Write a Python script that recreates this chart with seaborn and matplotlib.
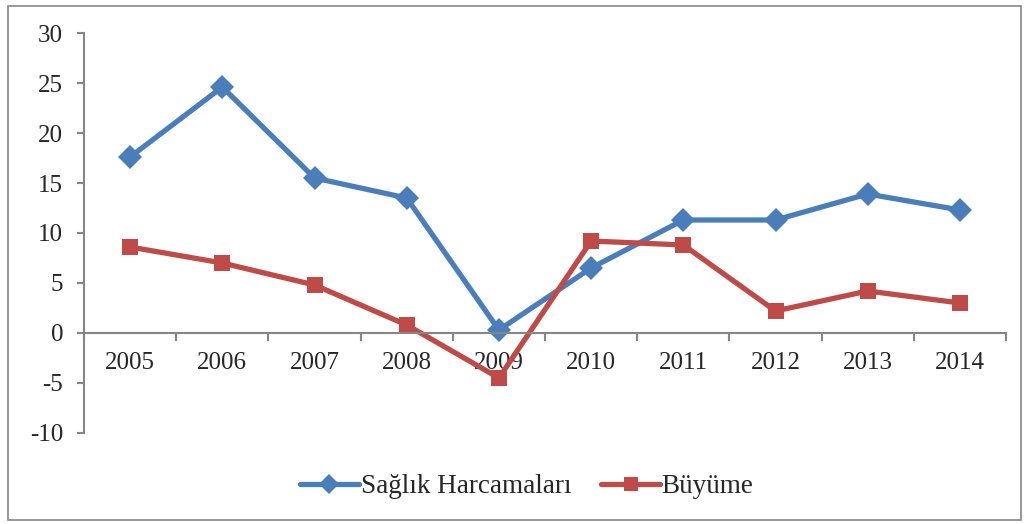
import matplotlib
matplotlib.use("Agg")
import matplotlib.pyplot as plt
import pandas as pd
import seaborn as sns
from matplotlib.patches import Rectangle
from matplotlib.ticker import FixedLocator, MultipleLocator

years = ["2005", "2006", "2007", "2008", "2009", "2010", "2011", "2012", "2013", "2014"]
saglik = [17.6, 24.6, 15.5, 13.5, 0.3, 6.5, 11.3, 11.3, 13.9, 12.3]
buyume = [8.6, 7.0, 4.8, 0.8, -4.5, 9.2, 8.8, 2.2, 4.2, 3.0]

BLUE = "#4a7ebb"
RED = "#be4b48"
GREY = "#868686"

sns.set_theme(style="white")
plt.rcParams["font.family"] = ["Liberation Serif", "DejaVu Serif"]

df = pd.DataFrame({
    "pos": list(range(len(years))) * 2,
    "value": saglik + buyume,
    "series": ["Sağlık Harcamaları"] * len(years) + ["Büyüme"] * len(years),
})

fig = plt.figure(figsize=(10.27, 5.24), dpi=100)
ax = fig.add_axes([0.0818, 0.1737, 0.8978, 0.7633])

sns.lineplot(
    data=df, x="pos", y="value", hue="series", style="series",
    palette={"Sağlık Harcamaları": BLUE, "Büyüme": RED},
    markers={"Sağlık Harcamaları": "D", "Büyüme": "s"},
    dashes=False, linewidth=3.8, markersize=12, markeredgewidth=0,
    ax=ax,
)

ax.set_xlim(-0.5, len(years) - 0.5)
ax.set_ylim(-10, 30)
ax.yaxis.set_major_locator(MultipleLocator(5))
ax.set_yticklabels([str(int(v)) for v in ax.get_yticks()])
ax.xaxis.set_major_locator(FixedLocator(range(len(years))))
ax.set_xticklabels(years)
ax.xaxis.set_minor_locator(FixedLocator([i + 0.5 for i in range(-1, len(years))]))

for side in ["top", "right"]:
    ax.spines[side].set_visible(False)
ax.spines["bottom"].set_position(("data", 0))
for side in ["left", "bottom"]:
    ax.spines[side].set_color(GREY)
    ax.spines[side].set_linewidth(1.5)

ax.tick_params(axis="y", which="major", direction="out", length=5, width=1.5,
               color=GREY, pad=10, labelsize=18, left=True)
ax.tick_params(axis="x", which="major", length=0, pad=14, labelsize=18)
ax.tick_params(axis="x", which="minor", direction="out", length=6, width=1.5,
               color=GREY, bottom=True)
ax.set_xlabel("")
ax.set_ylabel("")
ax.grid(False)

handles, labels = ax.get_legend_handles_labels()
leg = ax.legend(handles, labels, loc="center", bbox_to_anchor=(0.48, -0.135),
                ncol=2, frameon=False, fontsize=19.5, handlelength=2.2,
                handletextpad=0.05, columnspacing=1.1)
for h in leg.legend_handles:
    h.set_markersize(10)

fig.patches.append(Rectangle((0.008, 0.008), 0.986, 0.98, transform=fig.transFigure,
                             fill=False, edgecolor=GREY, linewidth=1.2))

fig.savefig("out.png", dpi=100)
